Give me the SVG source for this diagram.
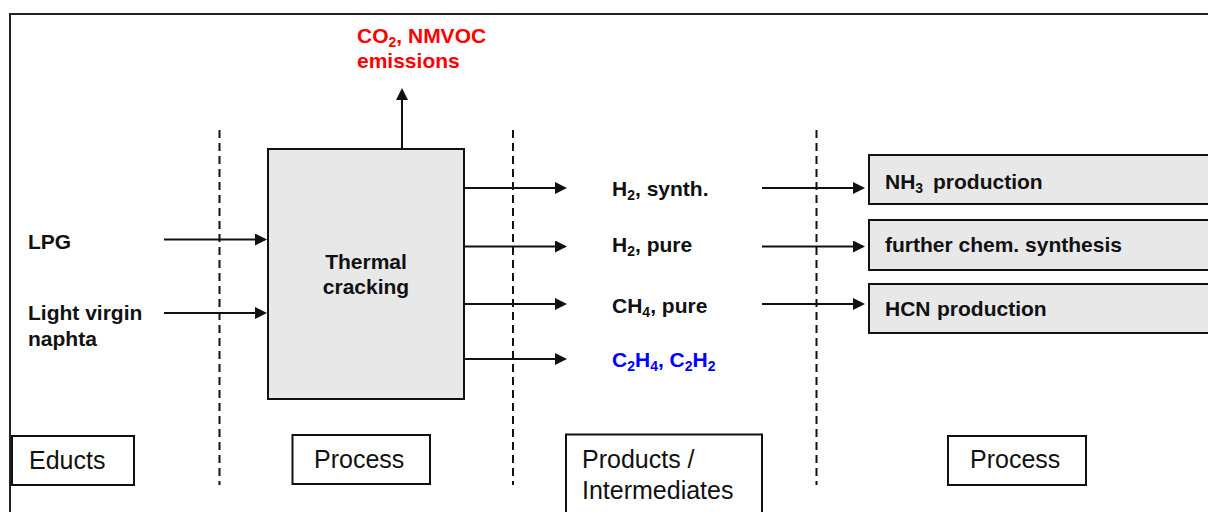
<svg xmlns="http://www.w3.org/2000/svg" width="1208" height="512" viewBox="0 0 1208 512">
<style>
text{font-family:"Liberation Sans",Arial,sans-serif;fill:#111}
.b{font-weight:bold;font-size:21px}
.r{font-size:25px}
.red{fill:#ff0000}
.blue{fill:#0000ff}
.sub{font-size:14px}
.box{fill:#e8e8e8;stroke:#111;stroke-width:2}
.lbl{fill:#fff;stroke:#111;stroke-width:2}
.arr{stroke:#111;stroke-width:2;fill:none;marker-end:url(#ah)}
.dash{stroke:#111;stroke-width:2;stroke-dasharray:8 5;fill:none}
</style>
<defs>
<marker id="ah" markerWidth="12" markerHeight="12" refX="10" refY="6" orient="auto" markerUnits="userSpaceOnUse">
<path d="M0,0 L12,6 L0,12 Z" fill="#111"/>
</marker>
</defs>
<rect width="1208" height="512" fill="#fff"/>
<rect id="frame" x="10" y="14" width="1220" height="520" fill="none" stroke="#222" stroke-width="2"/>

<g id="dividers">
<line class="dash" x1="219.5" y1="130" x2="219.5" y2="485"/>
<line class="dash" x1="513" y1="130" x2="513" y2="485"/>
<line class="dash" x1="816.5" y1="130" x2="816.5" y2="485"/>
</g>

<g id="connectors">
<line class="arr" x1="164" y1="239.5" x2="265" y2="239.5"/>
<line class="arr" x1="164" y1="313" x2="265" y2="313"/>
<line class="arr" x1="402" y1="149" x2="402" y2="90"/>
<line class="arr" x1="464" y1="188" x2="565" y2="188"/>
<line class="arr" x1="464" y1="246.5" x2="565" y2="246.5"/>
<line class="arr" x1="464" y1="304" x2="565" y2="304"/>
<line class="arr" x1="464" y1="359" x2="565" y2="359"/>
<line class="arr" x1="762" y1="188" x2="863" y2="188"/>
<line class="arr" x1="762" y1="246.5" x2="863" y2="246.5"/>
<line class="arr" x1="762" y1="304" x2="863" y2="304"/>
</g>

<g id="thermal-cracking">
<rect class="box" x="268" y="149" width="196" height="250"/>
<text class="b" x="366" y="268.5" text-anchor="middle">Thermal</text>
<text class="b" x="366" y="293.5" text-anchor="middle">cracking</text>
</g>

<g id="emissions">
<text class="b red" x="357" y="43">CO<tspan class="sub" dy="4">2</tspan><tspan dy="-4">, NMVOC</tspan></text>
<text class="b red" x="357" y="68">emissions</text>
</g>

<g id="lpg"><text class="b" x="28" y="249">LPG</text></g>
<g id="naphta">
<text class="b" x="28" y="320">Light virgin</text>
<text class="b" x="28" y="345.5">naphta</text>
</g>

<g id="h2-synth"><text class="b" x="612" y="196">H<tspan class="sub" dy="4">2</tspan><tspan dy="-4">, synth.</tspan></text></g>
<g id="h2-pure"><text class="b" x="612" y="252">H<tspan class="sub" dy="4">2</tspan><tspan dy="-4">, pure</tspan></text></g>
<g id="ch4-pure"><text class="b" x="612" y="313">CH<tspan class="sub" dy="4">4</tspan><tspan dy="-4">, pure</tspan></text></g>
<g id="c2h4-c2h2"><text class="b blue" x="612" y="367">C<tspan class="sub" dy="4">2</tspan><tspan dy="-4">H</tspan><tspan class="sub" dy="4">4</tspan><tspan dy="-4">, C</tspan><tspan class="sub" dy="4">2</tspan><tspan dy="-4">H</tspan><tspan class="sub" dy="4">2</tspan></text></g>

<g id="nh3-production">
<rect class="box" x="869" y="155" width="360" height="49"/>
<text class="b" x="885" y="189">NH<tspan class="sub" dy="4">3</tspan><tspan dy="-4" x="933">production</tspan></text>
</g>
<g id="further-synthesis">
<rect class="box" x="869" y="220" width="360" height="50"/>
<text class="b" x="885" y="251.5">further chem. synthesis</text>
</g>
<g id="hcn-production">
<rect class="box" x="869" y="284" width="360" height="49"/>
<text class="b" x="885" y="316">HCN <tspan x="937">production</tspan></text>
</g>

<g id="educts-label">
<rect class="lbl" x="12" y="436" width="122" height="49"/>
<text class="r" x="29" y="469">Educts</text>
</g>
<g id="process-label-1">
<rect class="lbl" x="292.5" y="435" width="137.5" height="49"/>
<text class="r" x="314" y="468">Process</text>
</g>
<g id="products-label">
<rect class="lbl" x="566" y="434.5" width="196" height="90"/>
<text class="r" x="582" y="468">Products /</text>
<text class="r" x="582" y="499">Intermediates</text>
</g>
<g id="process-label-2">
<rect class="lbl" x="948" y="436" width="138" height="49"/>
<text class="r" x="970" y="468">Process</text>
</g>
</svg>
